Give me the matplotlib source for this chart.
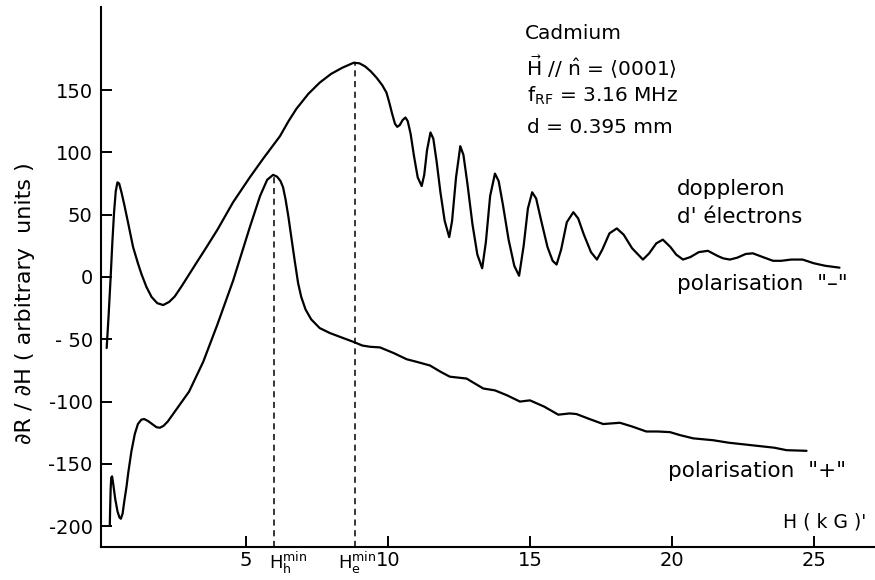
import matplotlib
matplotlib.use("Agg")
import matplotlib.pyplot as plt

plt.rcParams['font.family'] = ['DejaVu Sans']
plt.rcParams['mathtext.fontset'] = 'dejavusans'

# "-" polarisation (doppleron d'electrons)
minus_x = [0.10, 0.17, 0.24, 0.30, 0.36, 0.42, 0.48, 0.54, 0.62, 0.72, 0.84, 1.03, 1.20, 1.33,
           1.50, 1.68, 1.88, 2.09, 2.30, 2.50, 2.75, 3.00, 3.25, 3.56, 4.00, 4.55, 5.14, 5.61,
           6.20, 6.50, 6.78, 7.20, 7.60, 8.00, 8.40, 8.80, 9.00, 9.20, 9.40, 9.60, 9.80, 9.95,
           10.05, 10.15, 10.25, 10.33, 10.42, 10.52, 10.62, 10.70, 10.80, 10.92, 11.05, 11.19,
           11.28, 11.38, 11.50, 11.60, 11.72, 11.85, 12.00, 12.16, 12.26, 12.40, 12.55, 12.66,
           12.80, 12.98, 13.15, 13.32, 13.45, 13.60, 13.77, 13.90, 14.05, 14.25, 14.45, 14.62,
           14.78, 14.93, 15.08, 15.22, 15.40, 15.62, 15.80, 15.94, 16.10, 16.30, 16.53, 16.70,
           16.90, 17.15, 17.36, 17.55, 17.80, 18.06, 18.30, 18.60, 18.98, 19.20, 19.45, 19.68,
           19.95, 20.15, 20.39, 20.65, 20.95, 21.27, 21.60, 21.80, 22.04, 22.30, 22.60, 22.85,
           23.20, 23.56, 23.85, 24.20, 24.60, 25.00, 25.40, 25.90]
minus_y = [-57, -30, 0, 28, 52, 69, 76, 75, 68, 58, 45, 24, 11, 2,
           -8, -16, -21, -22.5, -20, -15.5, -7, 2, 11, 22, 38, 60, 80, 95,
           113, 125, 135, 147, 156, 163, 168, 172, 171.5, 169, 165, 160, 154, 148,
           140, 131, 123, 120.5, 122, 126, 128, 125, 115, 97, 80, 73,
           82, 102, 116, 111, 92, 68, 45, 32, 45, 80, 105, 98,
           75, 42, 18, 7, 28, 65, 83, 77, 58, 30, 9, 1,
           25, 55, 68, 63, 45, 24, 13, 10, 22, 44, 52, 47,
           34, 20, 14, 22, 35, 39, 34, 23, 14, 19, 27, 30,
           24, 18, 14, 16, 20, 21, 17, 15, 14, 15.5, 18.5, 19,
           16, 13, 13, 14, 14, 11, 9, 7.5]

# "+" polarisation
plus_x = [0.21, 0.22, 0.24, 0.26, 0.29, 0.33, 0.40, 0.48, 0.55, 0.60, 0.66, 0.72, 0.80, 0.86,
          0.97, 1.09, 1.20, 1.32, 1.42, 1.55, 1.70, 1.85, 1.97, 2.10, 2.25, 2.50, 3.00, 3.50,
          4.00, 4.55, 5.14, 5.50, 5.75, 5.96, 6.10, 6.22, 6.31, 6.40, 6.50, 6.60, 6.72, 6.84,
          6.95, 7.10, 7.30, 7.60, 7.96, 8.31, 8.78, 9.10, 9.37, 9.72, 10.20, 10.66, 11.00, 11.48,
          11.85, 12.18, 12.77, 13.10, 13.36, 13.77, 14.20, 14.65, 15.00, 15.50, 16.00, 16.40,
          16.64, 17.10, 17.58, 18.17, 18.60, 19.10, 19.50, 19.93, 20.30, 20.75, 21.45, 22.00,
          22.40, 23.20, 23.60, 24.04, 24.74]
plus_y = [-199, -188, -170, -161, -160, -166, -178, -188, -193, -194, -190, -180, -168, -157,
          -140, -126, -118, -114.5, -114, -115.5, -118, -120.5, -121, -119.5, -116, -108, -92, -68,
          -38, -3, 40, 65, 78, 82, 80.5, 77, 72, 62, 48, 32, 13, -5,
          -16, -26, -34, -41, -45, -48, -52, -55, -56, -56.5, -61, -66, -68, -71,
          -76, -80, -81.5, -86, -89.5, -91, -95, -100, -99, -104, -110.5, -109.5,
          -110, -114, -118, -117, -120, -124, -124, -124.5, -127, -129.5, -131, -133,
          -134, -136, -137, -139, -139.5]

xticks = [5, 10, 15, 20, 25]
yticks = [-200, -150, -100, -50, 0, 50, 100, 150]
ytick_labels = ['-200', '-150', '-100', '- 50', '0', '50', '100', '150']

h_min_x = [6.0, 8.85]
h_min_top = [81, 172]

W, H = 875, 580
fig = plt.figure(figsize=(W / 100, H / 100), dpi=100)
ax = fig.add_axes([101 / W, 1 - 547 / H, 1 - 101 / W, (547 - 7) / H])

ax.plot(minus_x, minus_y, color='black', lw=1.6, solid_joinstyle='round', solid_capstyle='round')
ax.plot(plus_x, plus_y, color='black', lw=1.6, solid_joinstyle='round', solid_capstyle='round')

ylo, yhi = -216.7, 216.7
for xv, top in zip(h_min_x, h_min_top):
    ax.plot([xv, xv], [ylo, top], color='black', lw=1.1, linestyle=(0, (4, 3)))

ax.set_xlim(-0.1, 27.15)
ax.set_ylim(ylo, yhi)

for s in ['top', 'right']:
    ax.spines[s].set_visible(False)
for s in ['left', 'bottom']:
    ax.spines[s].set_linewidth(1.5)

ax.set_xticks(xticks)
ax.set_xticklabels([str(v) for v in xticks])
ax.set_yticks(yticks)
ax.set_yticklabels(ytick_labels)
ax.tick_params(axis='both', direction='in', length=8, width=1.4, labelsize=14)
ax.tick_params(axis='y', pad=6)
ax.tick_params(axis='x', pad=3)

def ftext(px, py, s, **kw):
    fig.text(px / W, 1 - py / H, s, **kw)

fs = 14.5
ftext(525, 39, 'Cadmium', fontsize=fs, va='baseline')
ftext(526, 76, r'$\vec{\mathrm{H}}$ // $\hat{\mathrm{n}}$ = $\langle$0001$\rangle$', fontsize=fs, va='baseline')
ftext(527, 102, r'f$_{\mathregular{RF}}$ = 3.16 MHz', fontsize=fs, va='baseline')
ftext(527, 133, 'd = 0.395 mm', fontsize=fs, va='baseline')

fs2 = 15.5
ftext(677, 195, 'doppleron', fontsize=fs2, va='baseline')
ftext(677, 223, "d' électrons", fontsize=fs2, va='baseline')
ftext(677, 290, 'polarisation  "–"', fontsize=fs2, va='baseline')
ftext(668, 477, 'polarisation  "+"', fontsize=fs2, va='baseline')
ftext(783, 528, "H ( k G )'", fontsize=13.5, va='baseline')

ftext(269, 569, r'H$_{\mathregular{h}}^{\mathregular{min}}$', fontsize=13, va='baseline')
ftext(338, 569, r'H$_{\mathregular{e}}^{\mathregular{min}}$', fontsize=13, va='baseline')

fig.text(25 / W, 1 - 303 / H, '∂R / ∂H ( arbitrary  units )', rotation=90,
         ha='center', va='center', fontsize=16)

fig.savefig('out.png', dpi=100)
